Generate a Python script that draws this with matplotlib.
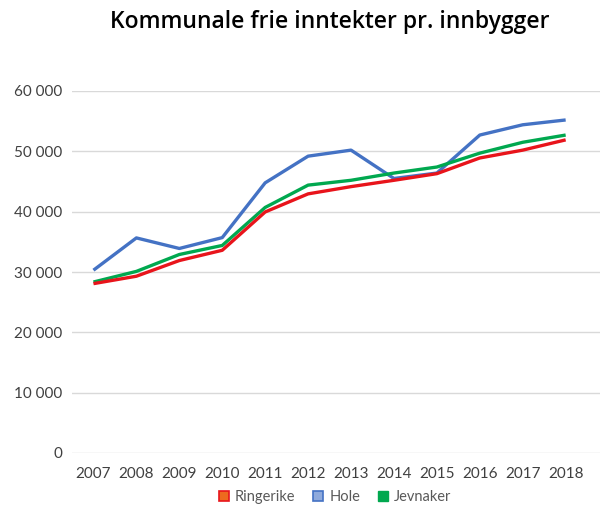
import matplotlib
matplotlib.use('Agg')
import matplotlib.pyplot as plt
from matplotlib.patches import Patch
from matplotlib.ticker import FuncFormatter

plt.rcParams['font.family'] = ['Lato', 'DejaVu Sans']

years = ['2007', '2008', '2009', '2010', '2011', '2012', '2013', '2014', '2015', '2016', '2017', '2018']
ringerike = [28070, 29300, 31900, 33600, 39950, 42950, 44150, 45200, 46300, 48900, 50200, 51900]
hole = [30300, 35650, 33900, 35700, 44780, 49200, 50200, 45500, 46400, 52700, 54400, 55200]
jevnaker = [28340, 30100, 32900, 34400, 40700, 44400, 45200, 46400, 47400, 49700, 51500, 52700]

fig = plt.figure(figsize=(6.01, 5.05), dpi=100)
ax = fig.add_axes([72/601, 1 - 453/505, 528/601, (453 - 91)/505])

x = range(len(years))
ax.plot(x, hole, color='#4472C4', lw=2.4, zorder=3, solid_capstyle='butt')
ax.plot(x, jevnaker, color='#00A84F', lw=2.4, zorder=4, solid_capstyle='butt')
ax.plot(x, ringerike, color='#E8141B', lw=2.4, zorder=5, solid_capstyle='butt')

ax.set_ylim(0, 60000)
ax.set_xlim(-0.5, 11.8)
ax.set_yticks(range(0, 60001, 10000))
ax.yaxis.set_major_formatter(FuncFormatter(lambda v, p: f'{int(v):,}'.replace(',', ' ')))
ax.set_xticks(list(x))
ax.set_xticklabels(years)
ax.grid(axis='y', color='#D9D9D9', lw=1)
ax.set_axisbelow(True)
for s in ax.spines.values():
    s.set_visible(False)
ax.tick_params(length=0, labelsize=11, labelcolor='#404040')
ax.tick_params(axis='y', pad=7)
ax.tick_params(axis='x', pad=10)

fig.text(330/601, 1 - 22/505, 'Kommunale frie inntekter pr. innbygger', ha='center', va='center',
         fontsize=16.5, fontweight='semibold', family=['Open Sans', 'DejaVu Sans'], color='#000000')

handles = [Patch(facecolor='#ED6A1F', edgecolor='#E8141B', lw=1.2, label='Ringerike'),
           Patch(facecolor='#8FAADC', edgecolor='#4472C4', lw=1.2, label='Hole'),
           Patch(facecolor='#00A84F', edgecolor='#00A84F', label='Jevnaker')]
fig.legend(handles=handles, loc='center', bbox_to_anchor=(335/601, 1 - 497/505), ncol=3,
           frameon=False, fontsize=10.5, handlelength=0.7, handleheight=0.7,
           handletextpad=0.4, columnspacing=1.2, labelcolor='#595959')

fig.savefig('out.png', dpi=100)
